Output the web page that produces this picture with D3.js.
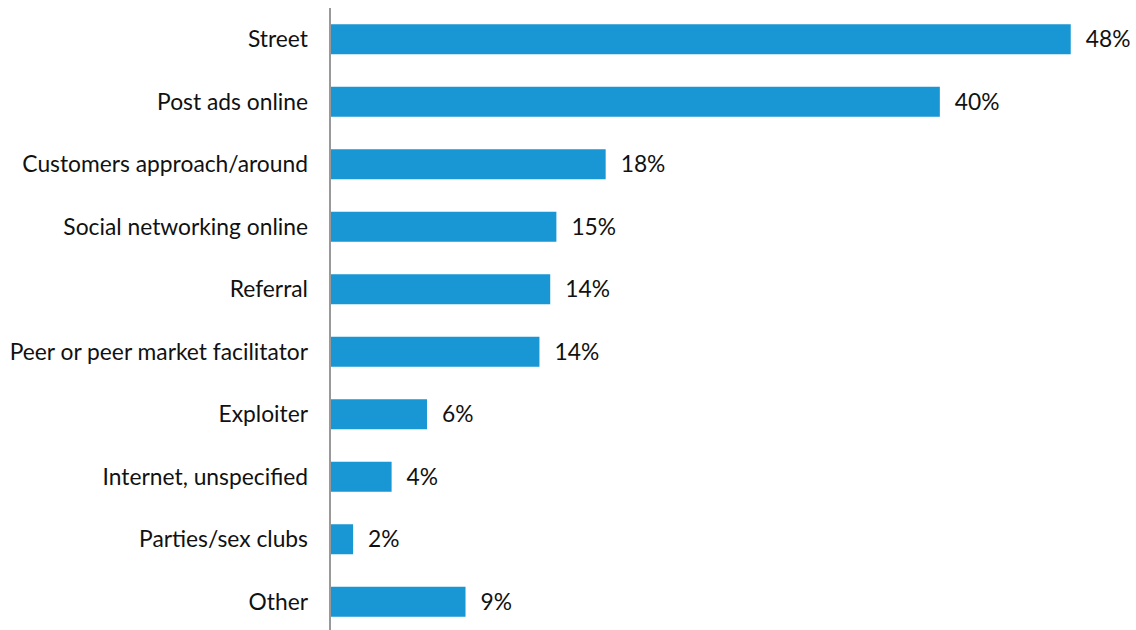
<!DOCTYPE html>
<html>
<head>
<meta charset="utf-8">
<script src="https://cdn.jsdelivr.net/npm/d3@7"></script>
<style>
  body { margin: 0; background: #fff; }
  text { font-family: Lato, "Open Sans", sans-serif; fill: #111; font-weight: 400; }
</style>
</head>
<body>
<div id="chart"></div>
<script>
// share of respondents by how they find customers
const categories = ["Street", "Post ads online", "Customers approach/around", "Social networking online",
    "Referral", "Peer or peer market facilitator", "Exploiter", "Internet, unspecified",
    "Parties/sex clubs", "Other"];
const values = [48.1, 39.6, 17.9, 14.7, 14.3, 13.6, 6.3, 4.0, 1.5, 8.8];

const width = 1136, height = 630;
const margin = {top: 8, left: 330};

const svg = d3.select("#chart").append("svg")
    .attr("width", width)
    .attr("height", height);

const x = d3.scaleLinear()
    .domain([0, 50])
    .range([margin.left, margin.left + 770]);

const y = d3.scaleBand()
    .domain(categories)
    .range([margin.top, margin.top + 625])
    .paddingInner(0.52)
    .paddingOuter(0.26);

svg.append("g")
    .selectAll("rect")
    .data(values)
    .enter().append("rect")
    .attr("x", x(0))
    .attr("y", (d, i) => y(categories[i]))
    .attr("width", d => x(d) - x(0))
    .attr("height", y.bandwidth())
    .style("fill", "#1997d4");

// value labels
svg.append("g")
    .selectAll("text")
    .data(values)
    .enter().append("text")
    .attr("x", d => x(d) + 15)
    .attr("y", (d, i) => y(categories[i]) + y.bandwidth() / 2)
    .attr("dy", "0.35em")
    .style("font-size", "22.8px")
    .text(d => Math.round(d) + "%");

// category labels
svg.append("g")
    .selectAll("text")
    .data(categories)
    .enter().append("text")
    .attr("x", margin.left - 22)
    .attr("y", d => y(d) + y.bandwidth() / 2)
    .attr("dy", "0.35em")
    .attr("text-anchor", "end")
    .style("font-size", "22.8px")
    .text(d => d);

svg.append("line")
    .attr("x1", margin.left).attr("x2", margin.left)
    .attr("y1", margin.top).attr("y2", height)
    .style("stroke", "#999")
    .style("stroke-width", 2);
</script>
</body>
</html>
